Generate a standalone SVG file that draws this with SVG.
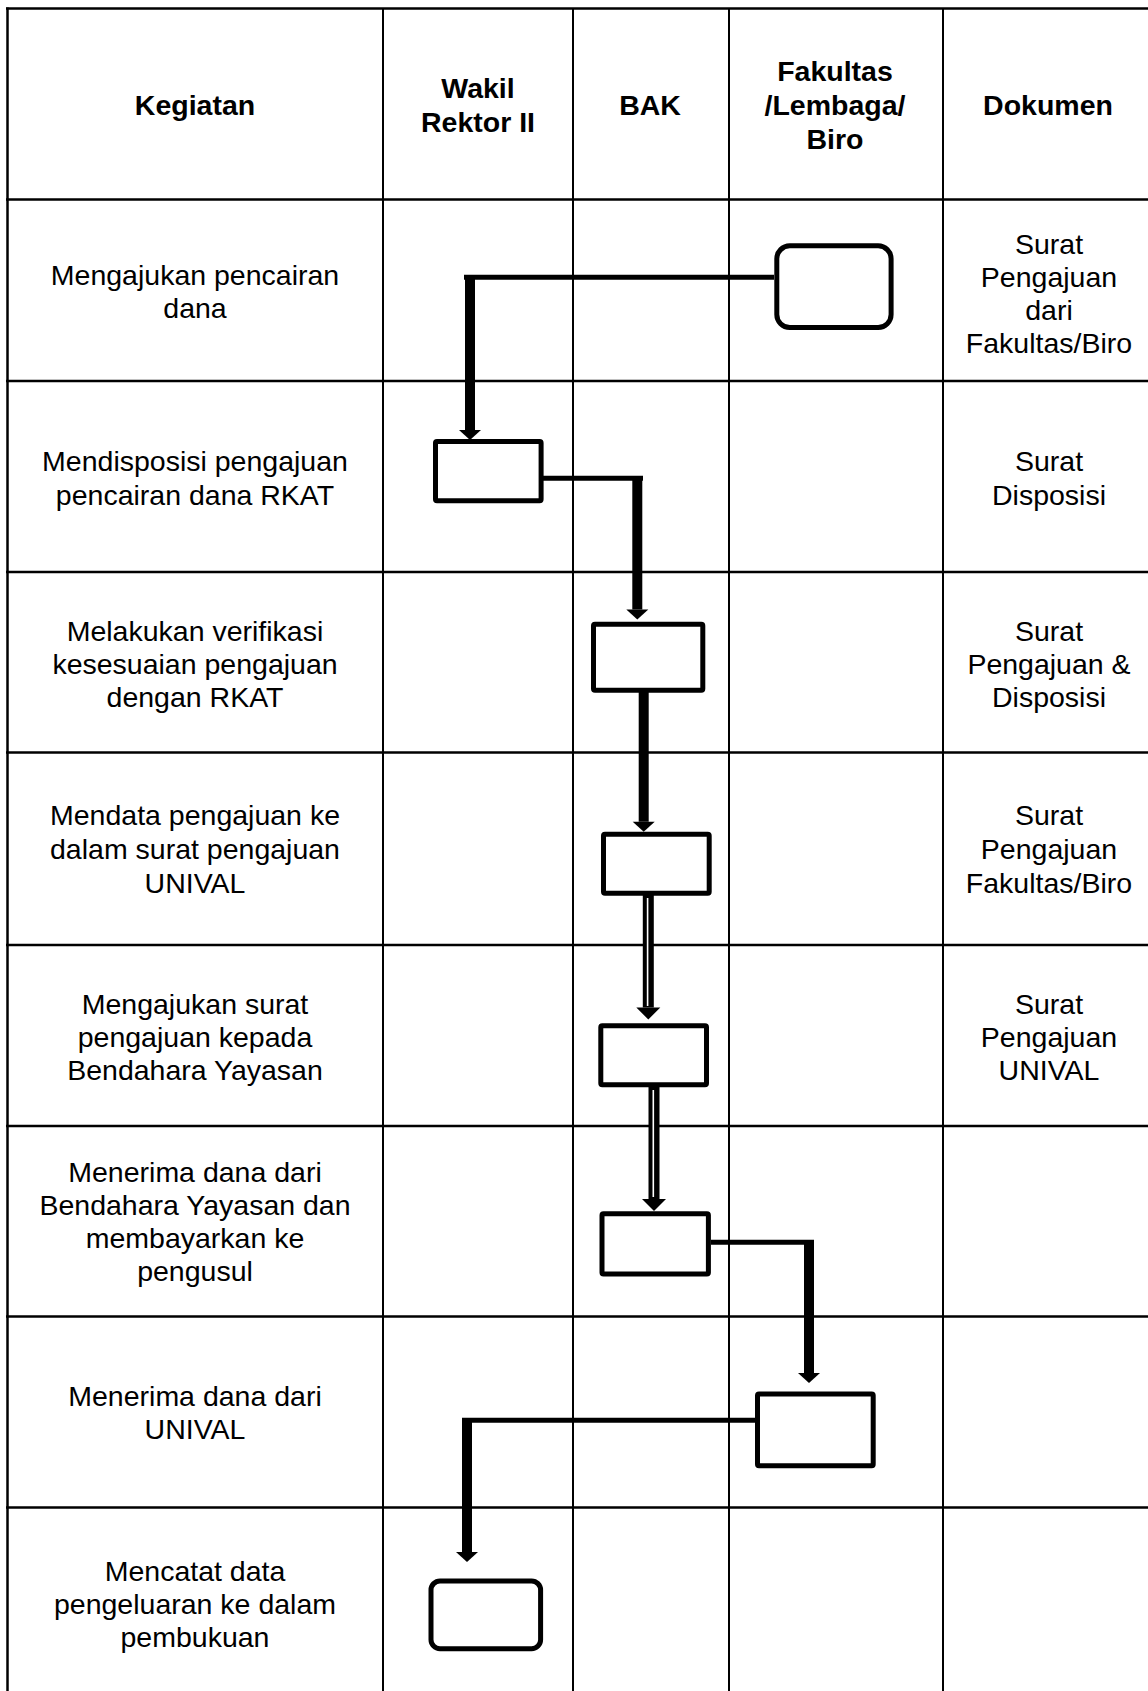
<svg xmlns="http://www.w3.org/2000/svg" width="1148" height="1691" viewBox="0 0 1148 1691">
<style>
  .grid line { stroke:#000; }
  .h { stroke-width:2.5; }
  .v { stroke-width:2; }
  text { font-family:"Liberation Sans", Arial, sans-serif; font-size:28.5px; fill:#000; text-anchor:middle; }
  .hd { font-weight:bold; }
  .box { fill:#fff; stroke:#000; stroke-width:5; }
  .thin { fill:none; stroke:#000; stroke-width:5; stroke-linecap:butt; }
  .thick { fill:none; stroke:#000; stroke-width:10; stroke-linecap:butt; }
  .dbl { fill:none; stroke:#000; stroke-width:11; stroke-linecap:butt; }
  .dblin { fill:none; stroke:#fff; stroke-width:1.6; }
</style>
<defs>
  <marker id="ah" markerUnits="userSpaceOnUse" markerWidth="12" markerHeight="24" refX="0" refY="11" orient="auto" overflow="visible">
    <path d="M0,0 L10,11 L0,22 z" fill="#000"/>
  </marker>
  <marker id="ah2" markerUnits="userSpaceOnUse" markerWidth="14" markerHeight="26" refX="0" refY="12" orient="auto" overflow="visible">
    <path d="M0,0 L12,12 L0,24 z" fill="#000"/>
  </marker>
</defs>
<rect width="1148" height="1691" fill="#fff"/>
<g class="grid" id="grid">
  <line class="h" x1="6" y1="8.5" x2="1148" y2="8.5"/>
  <line class="h" x1="6" y1="199.5" x2="1148" y2="199.5"/>
  <line class="h" x1="6" y1="381" x2="1148" y2="381"/>
  <line class="h" x1="6" y1="572" x2="1148" y2="572"/>
  <line class="h" x1="6" y1="752.5" x2="1148" y2="752.5"/>
  <line class="h" x1="6" y1="945" x2="1148" y2="945"/>
  <line class="h" x1="6" y1="1126" x2="1148" y2="1126"/>
  <line class="h" x1="6" y1="1316.5" x2="1148" y2="1316.5"/>
  <line class="h" x1="6" y1="1507.5" x2="1148" y2="1507.5"/>
  <line class="h" x1="7.5" y1="7.5" x2="7.5" y2="1691"/>
  <line class="v" x1="383" y1="8.5" x2="383" y2="1691"/>
  <line class="v" x1="573" y1="8.5" x2="573" y2="1691"/>
  <line class="v" x1="729" y1="8.5" x2="729" y2="1691"/>
  <line class="v" x1="943" y1="8.5" x2="943" y2="1691"/>
</g>
<g id="header">
  <text class="hd" x="195" y="115">Kegiatan</text>
  <text class="hd" x="478"><tspan x="478" y="98">Wakil</tspan><tspan x="478" y="131.7">Rektor II</tspan></text>
  <text class="hd" x="650" y="115">BAK</text>
  <text class="hd" x="835"><tspan x="835" y="81">Fakultas</tspan><tspan x="835" y="115">/Lembaga/</tspan><tspan x="835" y="148.5">Biro</tspan></text>
  <text class="hd" x="1048" y="115">Dokumen</text>
</g>
<g id="kegiatan">
  <text><tspan x="195" y="285">Mengajukan pencairan</tspan><tspan x="195" y="318">dana</tspan></text>
  <text><tspan x="195" y="471">Mendisposisi pengajuan</tspan><tspan x="195" y="504.5">pencairan dana RKAT</tspan></text>
  <text><tspan x="195" y="640.5">Melakukan verifikasi</tspan><tspan x="195" y="673.5">kesesuaian pengajuan</tspan><tspan x="195" y="706.5">dengan RKAT</tspan></text>
  <text><tspan x="195" y="825">Mendata pengajuan ke</tspan><tspan x="195" y="859">dalam surat pengajuan</tspan><tspan x="195" y="893">UNIVAL</tspan></text>
  <text><tspan x="195" y="1014">Mengajukan surat</tspan><tspan x="195" y="1047">pengajuan kepada</tspan><tspan x="195" y="1080">Bendahara Yayasan</tspan></text>
  <text><tspan x="195" y="1181.5">Menerima dana dari</tspan><tspan x="195" y="1214.7">Bendahara Yayasan dan</tspan><tspan x="195" y="1248">membayarkan ke</tspan><tspan x="195" y="1281">pengusul</tspan></text>
  <text><tspan x="195" y="1406">Menerima dana dari</tspan><tspan x="195" y="1439">UNIVAL</tspan></text>
  <text><tspan x="195" y="1581">Mencatat data</tspan><tspan x="195" y="1614">pengeluaran ke dalam</tspan><tspan x="195" y="1647">pembukuan</tspan></text>
</g>
<g id="dokumen">
  <text><tspan x="1049" y="254">Surat</tspan><tspan x="1049" y="287">Pengajuan</tspan><tspan x="1049" y="320">dari</tspan><tspan x="1049" y="353">Fakultas/Biro</tspan></text>
  <text><tspan x="1049" y="471">Surat</tspan><tspan x="1049" y="504.5">Disposisi</tspan></text>
  <text><tspan x="1049" y="640.5">Surat</tspan><tspan x="1049" y="673.5">Pengajuan &amp;</tspan><tspan x="1049" y="706.5">Disposisi</tspan></text>
  <text><tspan x="1049" y="825">Surat</tspan><tspan x="1049" y="859">Pengajuan</tspan><tspan x="1049" y="893">Fakultas/Biro</tspan></text>
  <text><tspan x="1049" y="1014">Surat</tspan><tspan x="1049" y="1047">Pengajuan</tspan><tspan x="1049" y="1080">UNIVAL</tspan></text>
</g>
<g id="connectors">
  <path class="thin" d="M774,277.3 H464"/>
  <path class="thick" d="M470,275 V430" marker-end="url(#ah)"/>
  <path class="thin" d="M543,478.3 H643"/>
  <path class="thick" d="M637.3,476 V609.5" marker-end="url(#ah)"/>
  <path class="thick" d="M643.7,692 V821.7" marker-end="url(#ah)"/>
  <path class="dbl" d="M648.3,895 V1007.5" marker-end="url(#ah2)"/>
  <path class="dblin" d="M647.6,898 V1006"/>
  <path class="dbl" d="M654,1087 V1199" marker-end="url(#ah2)"/>
  <path class="dblin" d="M653.3,1090 V1197"/>
  <path class="thin" d="M711,1242.3 H814"/>
  <path class="thick" d="M809,1240 V1373" marker-end="url(#ah)"/>
  <path class="thin" d="M755,1420.2 H462"/>
  <path class="thick" d="M467,1418 V1552" marker-end="url(#ah)"/>
</g>
<g id="node1"><rect class="box" x="776.8" y="245.8" width="114.3" height="81.7" rx="13"/></g>
<g id="node2"><rect class="box" x="435.5" y="441.5" width="105.6" height="59.3" rx="1.5"/></g>
<g id="node3"><rect class="box" x="593.5" y="624.2" width="109.3" height="66" rx="1.5"/></g>
<g id="node4"><rect class="box" x="603.5" y="834.2" width="105.7" height="59" rx="1.5"/></g>
<g id="node5"><rect class="box" x="600.8" y="1025.8" width="105.7" height="59" rx="1.5"/></g>
<g id="node6"><rect class="box" x="602" y="1213.7" width="106.4" height="60.2" rx="1.5"/></g>
<g id="node7"><rect class="box" x="757.5" y="1393.9" width="115.7" height="71.9" rx="1.5"/></g>
<g id="node8"><rect class="box" x="431" y="1581" width="109.6" height="67.7" rx="9"/></g>
</svg>
